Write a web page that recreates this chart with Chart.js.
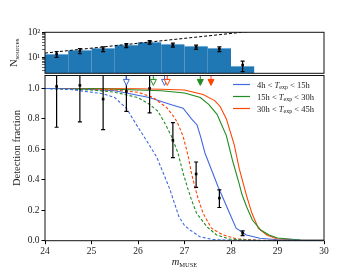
<!DOCTYPE html>
<html>
<head>
<meta charset="utf-8">
<script src="https://cdn.jsdelivr.net/npm/chart.js@4.4.1/dist/chart.umd.min.js"></script>
<style>
  html, body { margin: 0; padding: 0; background: #fff; }
  #wrap { position: relative; width: 360px; height: 270px; }
  #wrap canvas { position: absolute; left: 0; top: 0; }
</style>
</head>
<body>
<div id="wrap">
  <canvas id="bottom" width="360" height="270"></canvas>
  <canvas id="top" width="360" height="270"></canvas>
</div>
<script>
// magnitude bin centres (both panels)
const binCentres = [24.25, 24.75, 25.25, 25.75, 26.25, 26.75, 27.25, 27.75, 28.25];

// top panel: number of sources per bin
const histCounts = [13.2, 19, 23, 31, 40, 33, 27.5, 23, 4.4];
const countPts = [13.5, 18.2, 21.5, 30, 40, 31, 25.7, 21.5, 4.9];
const countErr = [3.6, 4.3, 4.6, 5.5, 6.3, 5.6, 5.1, 4.6, 2.2];
// dashed power law
const powerLawMag = [24, 30];
const powerLawN = [14.8, 222];

// bottom panel: measured detection fraction
const fracPts = [1.013, 1.02, 0.93, 0.98, 1.0, 0.66, 0.438, 0.28, 0.049];
const fracLo = [0.745, 0.78, 0.73, 0.85, 0.84, 0.545, 0.35, 0.218, 0.033];
const fracHi = [1.28, 1.26, 1.13, 1.11, 1.16, 0.775, 0.517, 0.334, 0.064];

// completeness curves, solid
const blueMag = [24, 24.5, 25, 25.5, 25.75, 26.24, 26.7, 26.97, 27.15, 27.27, 27.34, 27.44, 27.58, 27.72, 27.8, 27.97, 28.11, 28.33, 28.62, 29, 29.5, 30];
const blueFrac = [1.0, 0.998, 0.993, 0.985, 0.97, 0.94, 0.895, 0.87, 0.80, 0.76, 0.69, 0.576, 0.466, 0.356, 0.30, 0.18, 0.082, 0.038, 0.016, 0.006, 0.003, 0.002];
const greenMag = [24, 25, 25.5, 26, 26.5, 27.0, 27.34, 27.52, 27.7, 27.8, 27.9, 28.03, 28.17, 28.24, 28.34, 28.46, 28.64, 28.82, 29.0, 29.5, 30];
const greenFrac = [1.0, 1.0, 0.995, 0.99, 0.985, 0.97, 0.94, 0.895, 0.83, 0.76, 0.69, 0.53, 0.38, 0.30, 0.22, 0.136, 0.07, 0.037, 0.018, 0.005, 0.002];
const redMag = [24, 25, 26, 26.5, 27.0, 27.4, 27.65, 27.77, 27.9, 28.0, 28.07, 28.18, 28.34, 28.45, 28.59, 28.77, 28.98, 29.5, 30];
const redFrac = [1.0, 1.0, 0.998, 0.995, 0.99, 0.96, 0.92, 0.88, 0.80, 0.70, 0.63, 0.47, 0.29, 0.18, 0.08, 0.038, 0.013, 0.004, 0.002];

// completeness curves, dashed
const blueDashMag = [24, 24.5, 24.75, 25.25, 25.5, 25.75, 26.0, 26.2, 26.4, 26.55, 26.69, 26.76, 26.88, 27.0, 27.12, 27.33, 27.6, 28, 29, 30];
const blueDashFrac = [1.0, 0.995, 0.985, 0.965, 0.94, 0.87, 0.745, 0.65, 0.55, 0.44, 0.334, 0.268, 0.158, 0.10, 0.07, 0.026, 0.008, 0.003, 0.001, 0.0];
const greenDashMag = [24, 25, 25.5, 26, 26.25, 26.43, 26.58, 26.72, 26.86, 26.97, 27.08, 27.15, 27.26, 27.48, 27.69, 27.98, 28.5, 30];
const greenDashFrac = [1.0, 0.99, 0.975, 0.94, 0.895, 0.85, 0.77, 0.686, 0.576, 0.444, 0.334, 0.268, 0.18, 0.092, 0.038, 0.01, 0.002, 0];
const redDashMag = [24, 25, 25.5, 26, 26.33, 26.62, 26.79, 26.87, 26.97, 27.08, 27.15, 27.22, 27.29, 27.4, 27.58, 27.83, 28.12, 28.6, 30];
const redDashFrac = [1.0, 0.995, 0.99, 0.975, 0.94, 0.873, 0.807, 0.76, 0.686, 0.554, 0.444, 0.356, 0.28, 0.18, 0.082, 0.038, 0.012, 0.003, 0];

// arrows along the top of the bottom panel
const arrowMag = [25.75, 26.33, 26.57, 26.63, 27.34, 27.57];
const arrowColor = ["blue", "green", "blue", "red", "green", "red"];
const arrowFilled = [false, false, false, false, true, true];

const legendLabels = [["4h < ", " < 15h"], ["15h < ", " < 30h"], ["30h < ", " < 45h"]];

const COLORS = { blue: "#4169e1", green: "#228b22", red: "#ff4500" };
const serif = '"Liberation Serif", "Times New Roman", serif';

const toXY = (xs, ys) => xs.map((x, i) => ({ x: x, y: ys[i] }));

// text with sub/superscripts, pieces drawn one after another
function drawParts(ctx, parts, x, y, center) {
  let w = 0;
  parts.forEach(p => { ctx.font = p.font; w += ctx.measureText(p.text).width; });
  let cx = center ? x - w / 2 : x;
  parts.forEach(p => {
    ctx.font = p.font;
    ctx.fillText(p.text, cx, y + (p.dy || 0));
    cx += ctx.measureText(p.text).width;
  });
}

function errorBars(id, xs, ys, lo, hi) {
  return {
    id: id,
    afterDatasetsDraw(chart) {
      const { ctx, chartArea } = chart;
      const x = chart.scales.x, y = chart.scales.y;
      ctx.save();
      ctx.beginPath();
      ctx.rect(chartArea.left, chartArea.top, chartArea.width, chartArea.height);
      ctx.clip();
      ctx.strokeStyle = "#000";
      ctx.fillStyle = "#000";
      ctx.lineWidth = 1.2;
      xs.forEach((m, i) => {
        const px = x.getPixelForValue(m);
        const pl = y.getPixelForValue(lo[i]);
        const ph = y.getPixelForValue(hi[i]);
        const pm = y.getPixelForValue(ys[i]);
        ctx.beginPath();
        ctx.moveTo(px, pl); ctx.lineTo(px, ph);
        ctx.moveTo(px - 2, pl); ctx.lineTo(px + 2, pl);
        ctx.moveTo(px - 2, ph); ctx.lineTo(px + 2, ph);
        ctx.stroke();
        ctx.fillRect(px - 1.3, pm - 1.3, 2.6, 2.6);
      });
      ctx.restore();
    }
  };
}

const frame = {
  id: "frame",
  afterDraw(chart) {
    const { ctx, chartArea: a } = chart;
    ctx.save();
    ctx.strokeStyle = "#111";
    ctx.lineWidth = 1;
    ctx.strokeRect(a.left, a.top, a.width, a.height);
    ctx.restore();
  }
};

const arrows = {
  id: "arrows",
  afterDatasetsDraw(chart) {
    const { ctx, chartArea } = chart;
    const x = chart.scales.x, y = chart.scales.y;
    ctx.save();
    ctx.lineWidth = 1;
    arrowMag.forEach((m, i) => {
      const px = x.getPixelForValue(m);
      const tip = y.getPixelForValue(1.02);
      const c = COLORS[arrowColor[i]];
      ctx.strokeStyle = c;
      ctx.beginPath();
      ctx.moveTo(px, chartArea.top);
      ctx.lineTo(px, tip - 6);
      ctx.stroke();
      ctx.beginPath();
      ctx.moveTo(px - 3, tip - 6);
      ctx.lineTo(px + 3, tip - 6);
      ctx.lineTo(px, tip);
      ctx.closePath();
      ctx.fillStyle = arrowFilled[i] ? c : "#fff";
      ctx.fill();
      ctx.stroke();
    });
    ctx.restore();
  }
};

const bottomLabels = {
  id: "bottomLabels",
  afterDraw(chart) {
    const ctx = chart.ctx;
    ctx.save();
    ctx.fillStyle = "#222";
    ctx.textBaseline = "alphabetic";
    // legend
    const keys = ["blue", "green", "red"];
    keys.forEach((k, i) => {
      const yy = 84.5 + i * 12;
      ctx.strokeStyle = COLORS[k];
      ctx.lineWidth = 1.2;
      ctx.beginPath();
      ctx.moveTo(233, yy); ctx.lineTo(250, yy);
      ctx.stroke();
      drawParts(ctx, [
        { text: legendLabels[i][0], font: "8.5px " + serif },
        { text: "T", font: "italic 8.5px " + serif },
        { text: "exp", font: "6px " + serif, dy: 1.8 },
        { text: legendLabels[i][1], font: "8.5px " + serif }
      ], 257, yy + 3, false);
    });
    // x title
    drawParts(ctx, [
      { text: "m", font: "italic 10.5px " + serif },
      { text: "MUSE", font: "6.5px " + serif, dy: 2.3 }
    ], 184.5, 265, true);
    // y title
    ctx.translate(19.5, 148);
    ctx.rotate(-Math.PI / 2);
    ctx.font = "10.5px " + serif;
    ctx.textAlign = "center";
    ctx.fillText("Detection fraction", 0, 0);
    ctx.restore();
  }
};

const topLabels = {
  id: "topLabels",
  afterDraw(chart) {
    const ctx = chart.ctx;
    ctx.save();
    ctx.fillStyle = "#222";
    ctx.translate(17, 52.8);
    ctx.rotate(-Math.PI / 2);
    drawParts(ctx, [
      { text: "N", font: "10.5px " + serif },
      { text: "sources", font: "7px " + serif, dy: 2.2 }
    ], 0, 0, true);
    ctx.restore();
  }
};

const tickFont = { family: serif, size: 9.5 };

// bottom panel: detection fraction
new Chart(document.getElementById("bottom"), {
  type: "line",
  data: {
    datasets: [
      { data: toXY(blueDashMag, blueDashFrac), borderColor: COLORS.blue, borderDash: [3, 2] },
      { data: toXY(greenDashMag, greenDashFrac), borderColor: COLORS.green, borderDash: [3, 2] },
      { data: toXY(redDashMag, redDashFrac), borderColor: COLORS.red, borderDash: [3, 2] },
      { data: toXY(blueMag, blueFrac), borderColor: COLORS.blue },
      { data: toXY(greenMag, greenFrac), borderColor: COLORS.green },
      { data: toXY(redMag, redFrac), borderColor: COLORS.red }
    ]
  },
  options: {
    responsive: false,
    animation: false,
    layout: { padding: { top: 75.5, right: 36, left: 0, bottom: 0 } },
    elements: { point: { radius: 0 }, line: { borderWidth: 1.1, tension: 0 } },
    plugins: { legend: { display: false }, tooltip: { enabled: false } },
    scales: {
      x: {
        type: "linear", min: 24, max: 30,
        afterFit: s => { s.height = 29.3; },
        ticks: { stepSize: 1, font: tickFont, color: "#222", padding: 2 },
        grid: { drawOnChartArea: false, tickLength: 3.5, color: "#000" },
        border: { display: false }
      },
      y: {
        min: 0, max: 1.085,
        afterFit: s => { s.width = 45; },
        afterBuildTicks: s => { s.ticks = [0, 0.2, 0.4, 0.6, 0.8, 1.0].map(v => ({ value: v })); },
        ticks: { callback: v => v.toFixed(1), font: tickFont, color: "#222", padding: 2 },
        grid: { drawOnChartArea: false, tickLength: 3.5, color: "#000" },
        border: { display: false }
      }
    }
  },
  plugins: [frame, errorBars("fracErr", binCentres, fracPts, fracLo, fracHi), arrows, bottomLabels]
});

// top panel: source counts
new Chart(document.getElementById("top"), {
  type: "bar",
  data: {
    datasets: [
      {
        type: "bar", data: toXY(binCentres, histCounts),
        backgroundColor: "#1f77b4", borderColor: "#8dbbe0",
        borderWidth: { top: 1, left: 0, right: 0, bottom: 0 },
        inflateAmount: 0.6,
        barPercentage: 1, categoryPercentage: 1, order: 2
      },
      {
        type: "line", data: toXY(powerLawMag, powerLawN),
        borderColor: "#000", borderDash: [3, 2], borderWidth: 1, pointRadius: 0, order: 1
      }
    ]
  },
  options: {
    responsive: false,
    animation: false,
    layout: { padding: { top: 32.3, right: 36, left: 0, bottom: 196.7 } },
    plugins: { legend: { display: false }, tooltip: { enabled: false } },
    scales: {
      x: { type: "linear", min: 24, max: 30, offset: false, display: false },
      y: {
        type: "logarithmic", min: 2.3, max: 100,
        afterFit: s => { s.width = 45; },
        afterBuildTicks: s => {
          s.ticks = [3, 4, 5, 6, 7, 8, 9, 10, 20, 30, 40, 50, 60, 70, 80, 90, 100]
            .map(v => ({ value: v, major: v === 10 || v === 100 }));
        },
        ticks: {
          autoSkip: false, font: tickFont, color: "#222", padding: 2,
          callback: v => (v === 10 ? "10\u00b9" : v === 100 ? "10\u00b2" : "")
        },
        grid: {
          drawOnChartArea: false, tickLength: 3, color: "#000",
          lineWidth: c => (c.tick && c.tick.major ? 1 : 0.6)
        },
        border: { display: false }
      }
    }
  },
  plugins: [frame, errorBars("countErr", binCentres, countPts,
    countPts.map((v, i) => v - countErr[i]), countPts.map((v, i) => v + countErr[i])), topLabels]
});
</script>
</body>
</html>
